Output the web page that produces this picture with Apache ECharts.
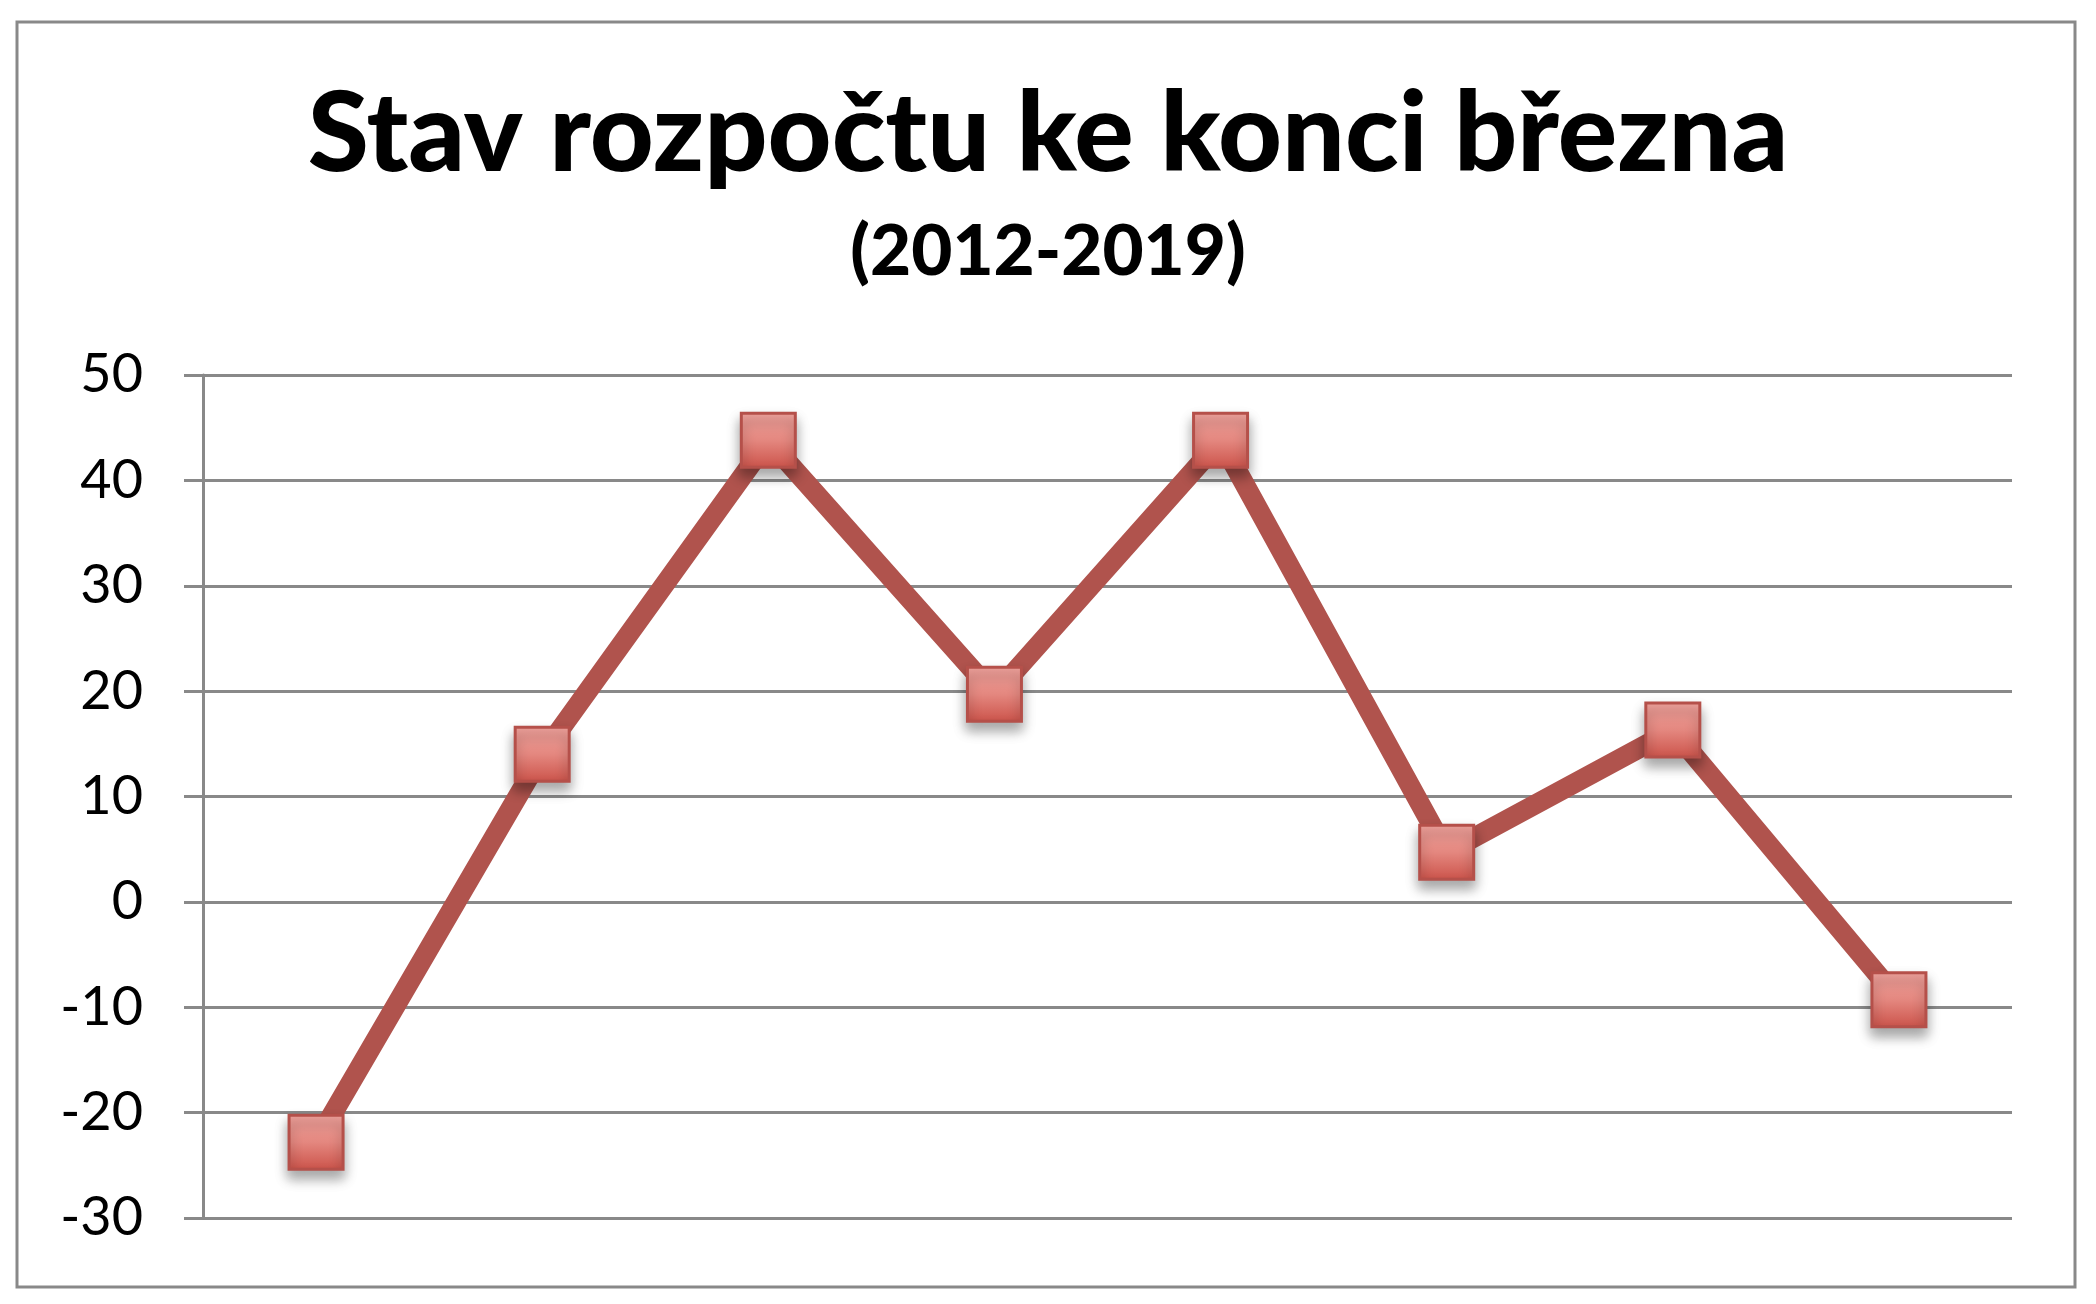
<!DOCTYPE html>
<html>
<head>
<meta charset="utf-8">
<script src="https://cdn.jsdelivr.net/npm/echarts@6/dist/echarts.min.js"></script>
<style>
html,body{margin:0;padding:0;background:#fff;}
#chart{width:2096px;height:1304px;}
</style>
</head>
<body>
<div id="chart"></div>
<script>
const titleText = 'Stav rozpočtu ke konci března';
const subtitleText = '(2012-2019)';
const categories = ['2012', '2013', '2014', '2015', '2016', '2017', '2018', '2019'];
const budgetValues = [-22.8, 14.0, 43.8, 19.7, 43.8, 4.7, 16.3, -9.3];
const yMin = -30, yMax = 50, yStep = 10;

const chart = echarts.init(document.getElementById('chart'));
chart.setOption({
  backgroundColor: '#ffffff',
  animation: false,
  graphic: [{
    type: 'rect',
    shape: {x: 17, y: 22, width: 2058, height: 1265},
    style: {fill: 'none', stroke: '#898989', lineWidth: 3},
    z: -1
  }],
  title: {
    text: titleText,
    subtext: subtitleText,
    left: 'center',
    top: 75,
    itemGap: 26,
    textStyle: {fontFamily: 'Lato', fontWeight: 900, fontSize: 111, color: '#000'},
    subtextStyle: {fontFamily: 'Lato', fontWeight: 900, fontSize: 71, color: '#000'}
  },
  grid: {left: 203, right: 84, top: 375, bottom: 86, containLabel: false},
  xAxis: {
    type: 'category',
    data: categories,
    boundaryGap: true,
    axisLine: {show: false},
    axisTick: {show: false},
    axisLabel: {show: false},
    splitLine: {show: false}
  },
  yAxis: {
    type: 'value',
    min: yMin, max: yMax, interval: yStep,
    axisLine: {show: true, lineStyle: {color: '#898989', width: 3}},
    axisTick: {show: true, length: 19, lineStyle: {color: '#898989', width: 3}},
    axisLabel: {margin: 60, fontFamily: 'Lato', fontSize: 54, color: '#000'},
    splitLine: {show: true, lineStyle: {color: '#898989', width: 3}}
  },
  series: [{
    type: 'line',
    data: budgetValues,
    symbol: 'rect',
    symbolSize: 54,
    lineStyle: {color: '#B0534D', width: 20, join: 'miter'},
    itemStyle: {
      color: new echarts.graphic.LinearGradient(0, 0, 0, 1, [
        {offset: 0, color: '#F2A49E'},
        {offset: 0.5, color: '#E4877F'},
        {offset: 1, color: '#CB5249'}
      ]),
      borderColor: '#B5504A',
      borderWidth: 3,
      shadowColor: 'rgba(0,0,0,0.35)',
      shadowBlur: 12,
      shadowOffsetY: 8
    },
    emphasis: {disabled: true}
  }]
});
</script>
</body>
</html>
